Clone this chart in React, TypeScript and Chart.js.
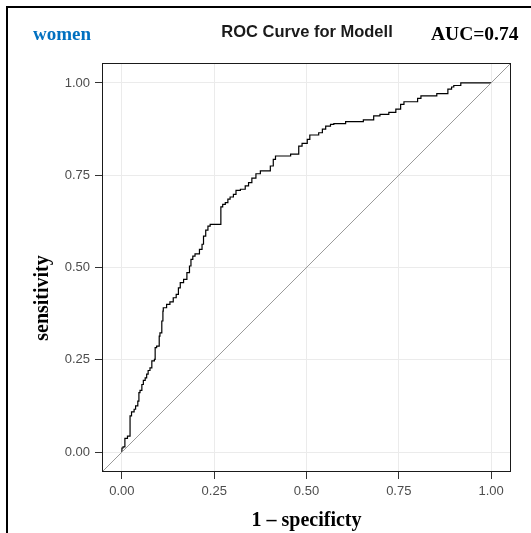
import { useEffect, useRef } from 'react';
import { Chart, registerables } from 'chart.js';

Chart.register(...registerables);

// ROC curve step points (1 - specificity, sensitivity)
const fpr = [
  0, 0.003, 0.008, 0.015, 0.022, 0.026, 0.033, 0.037, 0.043, 0.046,
  0.049, 0.054, 0.058, 0.063, 0.067, 0.071, 0.076, 0.081, 0.088, 0.090,
  0.094, 0.101, 0.103, 0.108, 0.111, 0.112, 0.121, 0.130, 0.139, 0.147,
  0.153, 0.158, 0.167, 0.176, 0.183, 0.187, 0.192, 0.198, 0.210, 0.217,
  0.221, 0.227, 0.233, 0.239, 0.244, 0.268, 0.273, 0.280, 0.287, 0.293,
  0.302, 0.309, 0.321, 0.334, 0.343, 0.352, 0.363, 0.375, 0.402, 0.410,
  0.416, 0.420, 0.457, 0.479, 0.488, 0.502, 0.509, 0.533, 0.543, 0.552,
  0.565, 0.574, 0.606, 0.654, 0.682, 0.699, 0.723, 0.742, 0.755, 0.764,
  0.801, 0.810, 0.853, 0.883, 0.893, 0.899, 0.918, 1.0,
];
const tpr = [
  0, 0.011, 0.014, 0.037, 0.043, 0.098, 0.109, 0.116, 0.125, 0.138,
  0.161, 0.167, 0.183, 0.194, 0.201, 0.211, 0.221, 0.228, 0.247, 0.251,
  0.283, 0.287, 0.314, 0.323, 0.355, 0.382, 0.391, 0.400, 0.407, 0.418,
  0.427, 0.445, 0.459, 0.468, 0.486, 0.504, 0.522, 0.531, 0.537, 0.549,
  0.563, 0.585, 0.601, 0.612, 0.617, 0.617, 0.664, 0.671, 0.676, 0.685,
  0.691, 0.698, 0.709, 0.712, 0.721, 0.730, 0.742, 0.754, 0.762, 0.775,
  0.793, 0.802, 0.802, 0.807, 0.829, 0.836, 0.847, 0.859, 0.865, 0.875,
  0.883, 0.888, 0.890, 0.895, 0.900, 0.911, 0.915, 0.920, 0.929, 0.942,
  0.949, 0.958, 0.965, 0.971, 0.983, 0.989, 0.993, 1.0,
];

const axisMin = -0.054;
const axisMax = 1.054;
const diagonal = [axisMin, axisMax];
const tickValues = [0, 0.25, 0.5, 0.75, 1];
const tickLabels = ['0.00', '0.25', '0.50', '0.75', '1.00'];

const groupLabel = 'women';
const chartTitle = 'ROC Curve for Modell';
const aucLabel = 'AUC=0.74';
const xTitle = '1 \u2013 specificty';
const yTitle = 'sensitivity';

const SANS = "'Liberation Sans', Arial, sans-serif";
const SERIF = "'Liberation Serif', 'Times New Roman', serif";

const decor = {
  id: 'decor',
  afterDraw(chart: any) {
    const { ctx, chartArea: a } = chart;
    ctx.save();
    // plot panel border
    ctx.strokeStyle = '#1a1a1a';
    ctx.lineWidth = 1;
    ctx.strokeRect(a.left + 0.5, a.top + 0.5, a.right - a.left - 1, a.bottom - a.top - 1);
    // outer frame (left & top)
    ctx.fillStyle = '#000';
    ctx.fillRect(0, 0, 2, chart.height);
    ctx.fillRect(0, 0, chart.width, 2);

    ctx.textBaseline = 'alphabetic';
    // group label
    ctx.font = `bold 19px ${SERIF}`;
    ctx.fillStyle = '#0070C0';
    ctx.textAlign = 'left';
    ctx.fillText(groupLabel, 27, 33.5);
    // title
    ctx.font = `bold 16.5px ${SANS}`;
    ctx.fillStyle = '#1a1a1a';
    ctx.textAlign = 'center';
    ctx.fillText(chartTitle, 301, 30.5);
    // AUC
    ctx.font = `bold 19.5px ${SERIF}`;
    ctx.fillStyle = '#000';
    ctx.textAlign = 'left';
    ctx.fillText(aucLabel, 425, 33.5);
    // x title
    ctx.font = `bold 20px ${SERIF}`;
    ctx.textAlign = 'center';
    ctx.fillText(xTitle, (a.left + a.right) / 2, 520);
    // y title
    ctx.translate(42, 292);
    ctx.rotate(-Math.PI / 2);
    ctx.fillText(yTitle, 0, 0);
    ctx.restore();
  },
};

function makeScale(fitSize: number, isX: boolean) {
  return {
    type: 'linear' as const,
    min: axisMin,
    max: axisMax,
    afterFit: (s: any) => {
      if (isX) s.height = fitSize;
      else s.width = fitSize;
    },
    afterBuildTicks: (s: any) => {
      s.ticks = tickValues.map((v) => ({ value: v }));
    },
    border: { display: false },
    grid: {
      color: '#ebebeb',
      lineWidth: 1,
      drawTicks: true,
      tickLength: 7,
      tickColor: '#333333',
    },
    ticks: {
      color: '#4d4d4d',
      font: { family: SANS, size: 13 },
      padding: isX ? 5 : 5,
      callback: (v: any) => {
        const i = tickValues.indexOf(Number(v));
        return i >= 0 ? tickLabels[i] : '';
      },
    },
  };
}

export default function App() {
  const ref = useRef<HTMLCanvasElement | null>(null);
  useEffect(() => {
    if (!ref.current) return;
    const chart = new Chart(ref.current, {
      type: 'scatter',
      data: {
        datasets: [
          {
            label: 'reference',
            data: diagonal.map((v) => ({ x: v, y: v })),
            showLine: true,
            borderColor: '#9a9a9a',
            borderWidth: 1,
            pointRadius: 0,
          },
          {
            label: 'ROC',
            data: fpr.map((x, i) => ({ x, y: tpr[i] })),
            showLine: true,
            stepped: 'after',
            borderColor: '#000000',
            borderWidth: 1.2,
            pointRadius: 0,
          },
        ],
      },
      options: {
        animation: false,
        responsive: false,
        devicePixelRatio: 1,
        layout: { padding: { left: 0, right: 20, top: 57, bottom: 0 } },
        plugins: {
          legend: { display: false },
          tooltip: { enabled: false },
          title: { display: false },
        },
        scales: {
          x: makeScale(61, true),
          y: makeScale(96, false),
        },
      } as any,
      plugins: [decor],
    });
    return () => chart.destroy();
  }, []);

  return (
    <canvas
      ref={ref}
      width={525}
      height={527}
      style={{ position: 'absolute', left: 6, top: 6, display: 'block' }}
    />
  );
}
